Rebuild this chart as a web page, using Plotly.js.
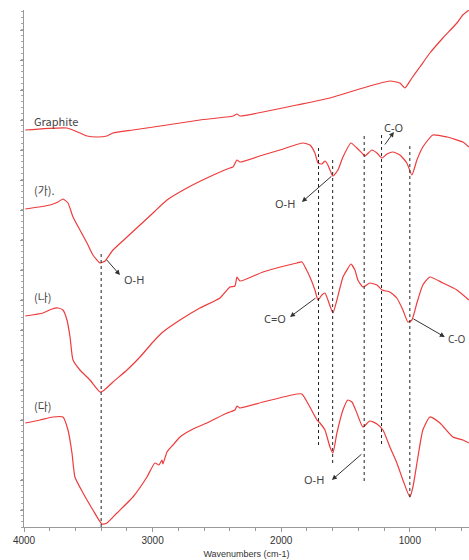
<!DOCTYPE html>
<html>
<head>
<meta charset="utf-8">
<script src="https://cdn.plot.ly/plotly-3.0.1.min.js"></script>
<style>html,body{margin:0;padding:0;background:#fff;}#chart{width:469px;height:560px;}</style>
</head>
<body>
<div id="chart"></div>
<script>
// Wavenumbers (cm-1) and relative transmittance (arbitrary, offset units)
const graphiteWn = [3990,3666,3565,3510,3433,3355,3308,3153,2888,2632,2375,2344,2321,2142,1878,1621,1365,1155,1077,1038,984,922,844,743,634,588,541];
const graphiteT  = [397,399,394,391,390,391,394,397,402,407,411,413,411,415,422,429,439,446,444,439,449,460,474,489,504,512,517];

const gaWn = [3990,3798,3736,3697,3658,3619,3565,3510,3464,3409,3370,3308,3199,3098,2997,2888,2733,2578,2399,2375,2344,2321,2142,2010,1831,1777,1738,1714,1684,1660,1637,1598,1559,1520,1458,1412,1365,1349,1295,1256,1217,1178,1132,1077,1023,984,945,899,821,712,588,541];
const gaT  = [318,322,325,328,324,310,297,284,272,264,266,277,290,302,314,327,339,349,359,360,367,365,372,377,384,382,374,364,363,366,362,351,357,370,384,379,373,371,377,374,369,373,375,372,364,352,367,380,392,390,385,380];

const naWn = [3990,3852,3782,3736,3697,3666,3642,3619,3565,3487,3409,3386,3308,3199,3098,2997,2920,2787,2632,2476,2399,2360,2344,2321,2142,1878,1839,1777,1738,1714,1684,1660,1637,1598,1567,1520,1489,1458,1427,1404,1365,1311,1256,1217,1155,1101,1054,1015,984,945,899,844,743,634,541];
const naT  = [211,214,218,219,217,207,190,167,157,147,135,136,145,157,170,185,195,207,219,229,240,241,250,246,255,264,265,250,237,227,232,234,227,214,227,250,257,263,257,247,240,244,242,237,235,229,217,205,207,224,242,250,244,237,227];

const daWn = [3990,3876,3775,3697,3658,3627,3604,3541,3464,3394,3355,3277,3153,3044,2982,2951,2927,2920,2888,2842,2787,2686,2578,2422,2399,2360,2344,2321,2142,1878,1839,1777,1722,1699,1660,1621,1598,1567,1520,1482,1450,1412,1365,1311,1256,1209,1155,1101,1054,1000,976,937,899,844,766,665,588,541];
const daT  = [104,107,110,110,97,74,50,34,17,3,4,14,30,50,64,62,67,63,75,82,90,98,104,114,115,117,121,119,125,133,133,120,107,104,97,80,74,94,117,127,125,114,100,106,103,97,80,64,47,30,40,70,97,110,104,90,87,84];

// Band marker lines
const bandWn     = [3400,1710,1600,1355,1220,1000];
const bandTop    = [273,382,367,392,392,384];
const bandBottom = [0,82,64,46,83,30];

// Sample labels
const sampleNames = ['Graphite','(가).','(나)','(다)'];
const sampleLabelWn = [3938,3938,3938,3938];
const sampleLabelT  = [406,337,230,121];

// Band assignments: text position, arrow head, arrow tail
const bandText   = ['O-H','O-H','C-O','C=O','C-O','O-H'];
const bandTextWn = [3235,1971,1124,2049,722,1746];
const bandTextT  = [248,324,400,209,188,48];
const bandTextAnchor = ['left','center','center','center','left','center'];
const arrowHeadWn = [3254,1839,1124,1932,728,1606];
const arrowHeadT  = [252,325,395,210,190,47];
const arrowTailWn = [3370,1598,1202,1722,984,1365];
const arrowTailT  = [269,352,381,230,209,74];

const red = '#ee3b3b';
const mk = (x,y)=>({x:x,y:y,type:'scatter',mode:'lines',line:{color:red,width:1.2,shape:'spline',smoothing:0.5},hoverinfo:'skip',showlegend:false});
const traces = [mk(graphiteWn,graphiteT), mk(gaWn,gaT), mk(naWn,naT), mk(daWn,daT)];

const shapes = bandWn.map((w,i)=>({type:'line',xref:'x',yref:'y',x0:w,x1:w,y0:bandBottom[i],y1:bandTop[i],line:{color:'#222',width:1,dash:'3px,3px'}}));

const annotations = [];
sampleNames.forEach((t,i)=>annotations.push({x:sampleLabelWn[i],y:sampleLabelT[i],xref:'x',yref:'y',text:t,showarrow:false,xanchor:'left',yanchor:'middle',font:{family:'Noto Sans CJK KR, Noto Sans, sans-serif',size:11,color:'#444'}}));
bandText.forEach((t,i)=>{
  annotations.push({x:bandTextWn[i],y:bandTextT[i],xref:'x',yref:'y',text:t,showarrow:false,xanchor:bandTextAnchor[i],yanchor:'middle',font:{family:'Noto Sans, sans-serif',size:(i===4?10:11),color:'#444'}});
  annotations.push({x:arrowHeadWn[i],y:arrowHeadT[i],xref:'x',yref:'y',ax:arrowTailWn[i],ay:arrowTailT[i],axref:'x',ayref:'y',text:'',showarrow:true,arrowhead:2,arrowsize:1,arrowwidth:1,arrowcolor:'#333',standoff:0,startstandoff:0});
});

const layout = {
  width:469,height:560,
  margin:{l:24,r:0,t:10,b:33},
  paper_bgcolor:'#fff',plot_bgcolor:'#fff',
  showlegend:false,
  xaxis:{range:[4000,540],autorange:false,showline:true,linecolor:'#999',linewidth:1,
    ticks:'outside',ticklen:4,tickcolor:'#999',tick0:0,dtick:1000,
    minor:{dtick:200,ticks:'outside',ticklen:3,tickcolor:'#999'},
    showgrid:false,zeroline:false,
    tickfont:{family:'Liberation Sans, sans-serif',size:10,color:'#333'},
    title:{text:'Wavenumbers (cm-1)',font:{family:'Liberation Sans, sans-serif',size:9,color:'#333'},standoff:5}},
  yaxis:{range:[0,517],autorange:false,showline:true,linecolor:'#999',linewidth:1,
    ticks:'outside',ticklen:3,tickcolor:'#999',tick0:17,dtick:30,
    minor:{dtick:6,ticks:'outside',ticklen:2,tickcolor:'#aaa'},
    showticklabels:false,showgrid:false,zeroline:false},
  shapes:shapes,
  annotations:annotations
};
Plotly.newPlot('chart',traces,layout,{displayModeBar:false,staticPlot:true});
</script>
</body>
</html>
